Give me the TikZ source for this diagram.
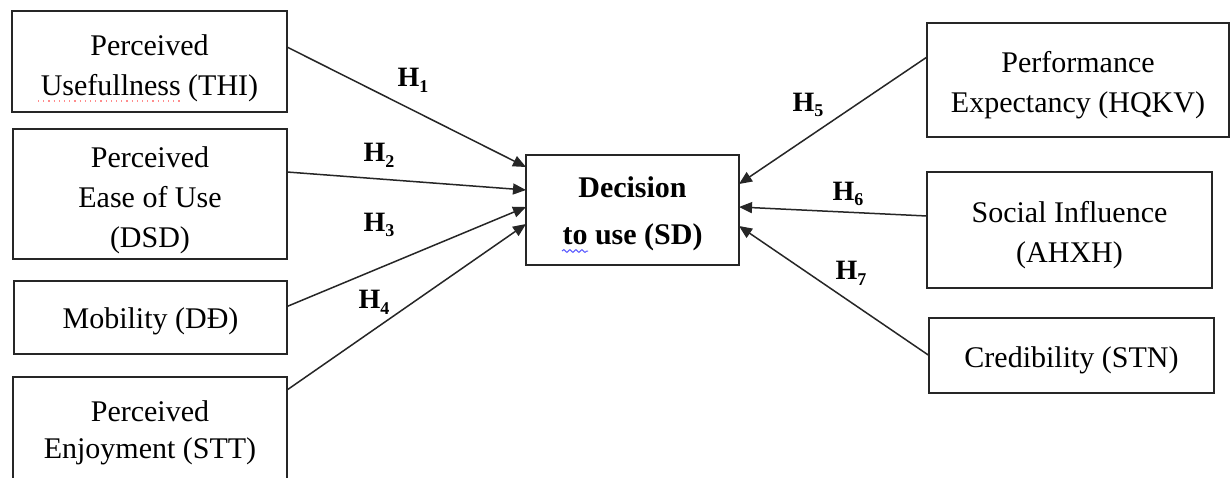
\documentclass[tikz,border=0pt]{standalone}
\usepackage{fontspec}
\setmainfont{Liberation Serif}
\usetikzlibrary{arrows.meta,calc,decorations.pathmorphing}

% bold hypothesis label with a lowered index
\newcommand{\hyp}[1]{\textbf{H}{\fontsize{9}{9}\selectfont\raisebox{-0.32em}{\textbf{#1}}}}

\tikzset{
  varbox/.style={draw=black!85, line width=0.95pt, inner sep=0pt, outer sep=0pt},
  vartext/.style={inner sep=0pt, align=center, font=\fontsize{15}{20}\selectfont},
  maintext/.style={vartext, font=\fontsize{15}{23.5}\selectfont\bfseries},
  link/.style={draw=black!85, line width=0.75pt, -{Triangle[length=6.5pt,width=5.5pt]}},
  hlabel/.style={font=\fontsize{14}{14}\selectfont, inner sep=0pt},
  spellred/.style={draw=red!45, line width=0.6pt, dotted},
  spellblue/.style={draw=blue!65, line width=0.5pt, decorate,
    decoration={snake, amplitude=0.7pt, segment length=3pt}}
}

\begin{document}
\begin{tikzpicture}[x=0.5pt,y=-0.5pt]
  \useasboundingbox (0,0) rectangle (1231,477);
  \clip (0,0) rectangle (1231,477);
  \fill[white] (0,0) rectangle (1231,477);

  % independent variables, left column
  \node[varbox, minimum width=137.5pt, minimum height=50.5pt] (thi) at (149.5,61.5) {};
  \node[vartext] (thi-t) at ($(thi)+(0,7)$) {Perceived\\Usefullness (THI)};
  \node[varbox, minimum width=137pt, minimum height=65pt] (dsd) at (150,194) {};
  \node[vartext] (dsd-t) at ($(dsd)+(0,6)$) {Perceived\\Ease of Use\\(DSD)};
  \node[varbox, minimum width=136.5pt, minimum height=36.5pt] (dd) at (150.5,317.5) {};
  \node[vartext] (dd-t) at ($(dd)+(0,4)$) {Mobility (DĐ)};
  \node[varbox, minimum width=137pt, minimum height=56pt] (stt) at (150,433) {};
  \node[vartext, font=\fontsize{15}{18.5}\selectfont] (stt-t) at ($(stt)+(0,0)$)
    {Perceived\\Enjoyment (STT)};

  % dependent variable
  \node[varbox, minimum width=106.5pt, minimum height=55pt] (sd) at (632.5,210) {};
  \node[maintext] (sd-t) at ($(sd)+(0,4)$) {Decision\\to use (SD)};

  % independent variables, right column
  \node[varbox, minimum width=151pt, minimum height=57pt] (hqkv) at (1078,80) {};
  \node[vartext] (hqkv-t) at ($(hqkv)+(0,5)$) {Performance\\Expectancy (HQKV)};
  \node[varbox, minimum width=142.5pt, minimum height=58pt] (ahxh) at (1069.5,230) {};
  \node[vartext] (ahxh-t) at ($(ahxh)+(0,5)$) {Social Influence\\(AHXH)};
  \node[varbox, minimum width=142.5pt, minimum height=37.5pt] (stn) at (1071.5,355.5) {};
  \node[vartext] (stn-t) at ($(stn)+(0,5)$) {Credibility (STN)};

  % spell-check marks
  \coordinate (r1) at (38,101);  \coordinate (r2) at (181,101);
  \coordinate (b1) at (562,251); \coordinate (b2) at (588,251);
  \draw[spellred] (r1) -- (r2);
  \draw[spellblue] (b1) -- (b2);

  % hypothesised paths
  \draw[link] ($(thi.east)+(0,-14.5)$) -- ($(sd.west)+(0,-43)$);
  \draw[link] ($(dsd.east)+(0,-22)$) -- ($(sd.west)+(0,-20)$);
  \draw[link] ($(dd.east)+(0,-11)$) -- ($(sd.west)+(0,-3)$);
  \draw[link] ($(stt.east)+(0,-43)$) -- ($(sd.west)+(0,14)$);
  \draw[link] ($(hqkv.west)+(0,-23)$) -- ($(sd.east)+(0,-26)$);
  \draw[link] ($(ahxh.west)+(0,-14)$) -- ($(sd.east)+(0,-3)$);
  \draw[link] ($(stn.west)+(0,0)$) -- ($(sd.east)+(0,16)$);

  % path labels
  \node[hlabel] (h1) at (413,80) {\hyp{1}};
  \node[hlabel] (h2) at (379,155) {\hyp{2}};
  \node[hlabel] (h3) at (379,225) {\hyp{3}};
  \node[hlabel] (h4) at (374,302) {\hyp{4}};
  \node[hlabel] (h5) at (808,105) {\hyp{5}};
  \node[hlabel] (h6) at (848,194) {\hyp{6}};
  \node[hlabel] (h7) at (851,273) {\hyp{7}};
\end{tikzpicture}
\end{document}
